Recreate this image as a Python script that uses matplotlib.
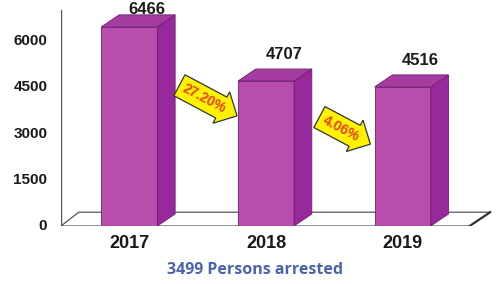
import numpy as np
import matplotlib.pyplot as plt
from matplotlib.patches import Polygon

plt.rcParams['font.family'] = ['Liberation Sans', 'DejaVu Sans']

years = ["2017", "2018", "2019"]
arrested = [6466, 4707, 4516]
yticks = [0, 1500, 3000, 4500, 6000]
note = "3499 Persons arrested"

front_col = "#B84DAE"
side_col = "#98299C"
top_col = "#A53C9F"
edge_col = "#6E1C70"

fig = plt.figure(figsize=(4.97, 2.84), dpi=100)
ax = fig.add_axes([61 / 497, 58 / 284, 436 / 497, 226 / 284])
ax.set_xlim(-0.5, 2.69)
ax.set_ylim(0, 7338)
ax.axis("off")

w = 0.41          # bar width in category units
dx = 0.13         # depth offset, x
dy = 390          # depth offset, y
x = np.arange(len(years))

# floor
fr = 2.69 - 0.05
fl = Polygon([(-0.5, 0), (-0.5 + dx, dy * 1.15), (fr, dy * 1.15),
              (fr - dx - 0.02, 0)], closed=True, fc="white", ec="#555555",
             lw=0.9, zorder=1)
ax.add_patch(fl)
ax.plot([fr, fr - dx - 0.02], [dy * 1.15, 0], color="#333333", lw=1.6, zorder=1)
ax.plot([-0.5, -0.5], [0, 7000], color="#555555", lw=1.0, zorder=2)
for b in [0.5, 1.5]:
    ax.plot([b, b], [-60, -160], color="#888888", lw=0.8, zorder=2)

# 3d bars
bars = ax.bar(x, arrested, width=w, color=front_col, edgecolor=edge_col,
              lw=0.6, zorder=3)
for xi, v in zip(x, arrested):
    l, r = xi - w / 2, xi + w / 2
    ax.add_patch(Polygon([(r, 0), (r + dx, dy), (r + dx, v + dy), (r, v)],
                         fc=side_col, ec=edge_col, lw=0.6, zorder=3))
    ax.add_patch(Polygon([(l, v), (l + dx, v + dy), (r + dx, v + dy), (r, v)],
                         fc=top_col, ec=edge_col, lw=0.6, zorder=3))
    ax.text(xi + dx, min(v + dy + 480, 7030), f"{v}", ha="center",
            va="center", fontsize=12, fontweight="bold", color="#1a1a1a",
            zorder=5)

# change arrows
for i in range(len(arrested) - 1):
    a, b = arrested[i], arrested[i + 1]
    pct = (a - b) / a * 100
    ax.text(i + 0.55, (a + b) / 2 - 1450, f"{pct:.2f}%", ha="center",
            va="center", rotation=-28, fontsize=10, fontweight="bold",
            color="#E8401C", zorder=6,
            bbox=dict(boxstyle="rarrow,pad=0.35", fc="#FFF200", ec="#333333",
                      lw=0.9))

# y ticks
for t in yticks:
    ax.text(-0.6, t, f"{t}", ha="right", va="center", fontsize=11,
            fontweight="bold", color="#1a1a1a")

# x labels
for xi, yr in zip(x, years):
    ax.text(xi, -560, yr, ha="center", va="center", fontsize=13,
            fontweight="bold", color="#1a1a1a")

fig.text(255 / 497, 1 - 270 / 284, note, ha="center", va="center",
         fontsize=11.5, fontweight="bold", color="#4A62B0", family="Open Sans")

fig.savefig("out.png", dpi=100)
